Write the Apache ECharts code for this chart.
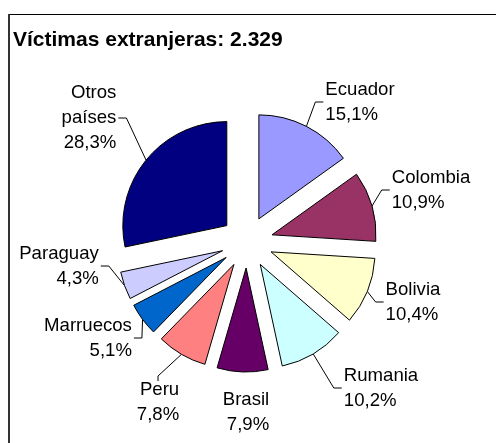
<!DOCTYPE html>
<html>
<head>
<meta charset="utf-8">
<script src="https://cdn.jsdelivr.net/npm/echarts@6/dist/echarts.min.js"></script>
<style>
  html, body { margin: 0; padding: 0; background: #fff; }
  #chart { width: 497px; height: 443px; }
</style>
</head>
<body>
<div id="chart"></div>
<script>
// data, clockwise from 12 o'clock
const countries = ['Ecuador', 'Colombia', 'Bolivia', 'Rumania', 'Brasil', 'Peru', 'Marruecos', 'Paraguay', 'Otros países']
const shares = [15.1, 10.9, 10.4, 10.2, 7.9, 7.8, 5.1, 4.3, 28.3]
const sliceColors = ['#9999FF', '#993366', '#FFFFCC', '#CCFFFF', '#660066', '#FF8080', '#0066CC', '#CCCCFF', '#000080']

// where the labels sit (centre of the text block) and which side the leader line leaves from
const labelPos = [
  [360, 102], [431, 190], [413, 302], [381, 388], [246, 412],
  [158, 402], [88, 338], [59, 266], [89, 118]
]
const lineSide = ['left', 'left', 'left', 'left', 'none', 'top', 'right', 'right', 'right']

const explode = 26
const total = shares.reduce((a, b) => a + b, 0)

const chart = echarts.init(document.getElementById('chart'))

// labels travel with their exploded slice, so work in the un-exploded frame
function layoutLabel(params) {
  const i = params.dataIndex
  const before = shares.slice(0, i).reduce((a, b) => a + b, 0)
  const mid = (before + shares[i] / 2) / total * Math.PI * 2
  const ox = explode * Math.sin(mid)
  const oy = -explode * Math.cos(mid)

  const r = params.labelRect
  const tx = labelPos[i][0] - ox - r.width / 2
  const ty = labelPos[i][1] - oy - r.height / 2
  const res = { dx: tx - r.x, dy: ty - r.y }
  const pts = params.labelLinePoints
  if (pts && lineSide[i] !== 'none') {
    const p0 = pts[0]
    let end, elbow
    if (lineSide[i] === 'left') {
      end = [tx - 2, ty + r.height / 2]
      elbow = [end[0] - 8, end[1]]
    } else if (lineSide[i] === 'right') {
      end = [tx + r.width + 2, ty + r.height / 2]
      elbow = [end[0] + 8, end[1]]
    } else {
      end = [tx + r.width / 2, ty + 4]
      elbow = [end[0], end[1] - 5]
    }
    res.labelLinePoints = [p0, elbow, end]
  }
  return res
}

const option = {
  animation: false,
  backgroundColor: '#fff',
  title: {
    text: 'Víctimas extranjeras: 2.329',
    left: 8,
    top: 25,
    textStyle: {
      fontFamily: 'Liberation Sans',
      fontWeight: 'bold',
      fontSize: 21,
      color: '#000'
    }
  },
  graphic: [
    { type: 'line', shape: { x1: 9, y1: 14.5, x2: 496, y2: 14.5 }, style: { stroke: '#000', lineWidth: 1 } },
    { type: 'line', shape: { x1: 9, y1: 14, x2: 9, y2: 443 }, style: { stroke: '#333', lineWidth: 2 } }
  ],
  series: [
    {
      type: 'pie',
      center: [247, 242],
      radius: 104,
      startAngle: 90,
      clockwise: true,
      selectedMode: 'multiple',
      selectedOffset: explode,
      data: countries.map((name, i) => ({
        name: name,
        value: shares[i],
        selected: true,
        itemStyle: { color: sliceColors[i] },
        labelLine: { show: lineSide[i] !== 'none' }
      })),
      itemStyle: {
        borderColor: '#000',
        borderWidth: 1
      },
      select: {
        itemStyle: { borderColor: '#000', borderWidth: 1 }
      },
      emphasis: { disabled: true },
      label: {
        show: true,
        position: 'outside',
        fontFamily: 'Liberation Sans',
        fontSize: 18.6,
        lineHeight: 25,
        color: '#000',
        align: 'center',
        formatter: p => p.name.replace(' ', '\n') + '\n' + p.value.toFixed(1).replace('.', ',') + '%'
      },
      labelLine: {
        show: true,
        length: 10,
        length2: 8,
        lineStyle: { color: '#000', width: 1 }
      },
      labelLayout: layoutLabel
    }
  ]
}

chart.setOption(option)
</script>
</body>
</html>
